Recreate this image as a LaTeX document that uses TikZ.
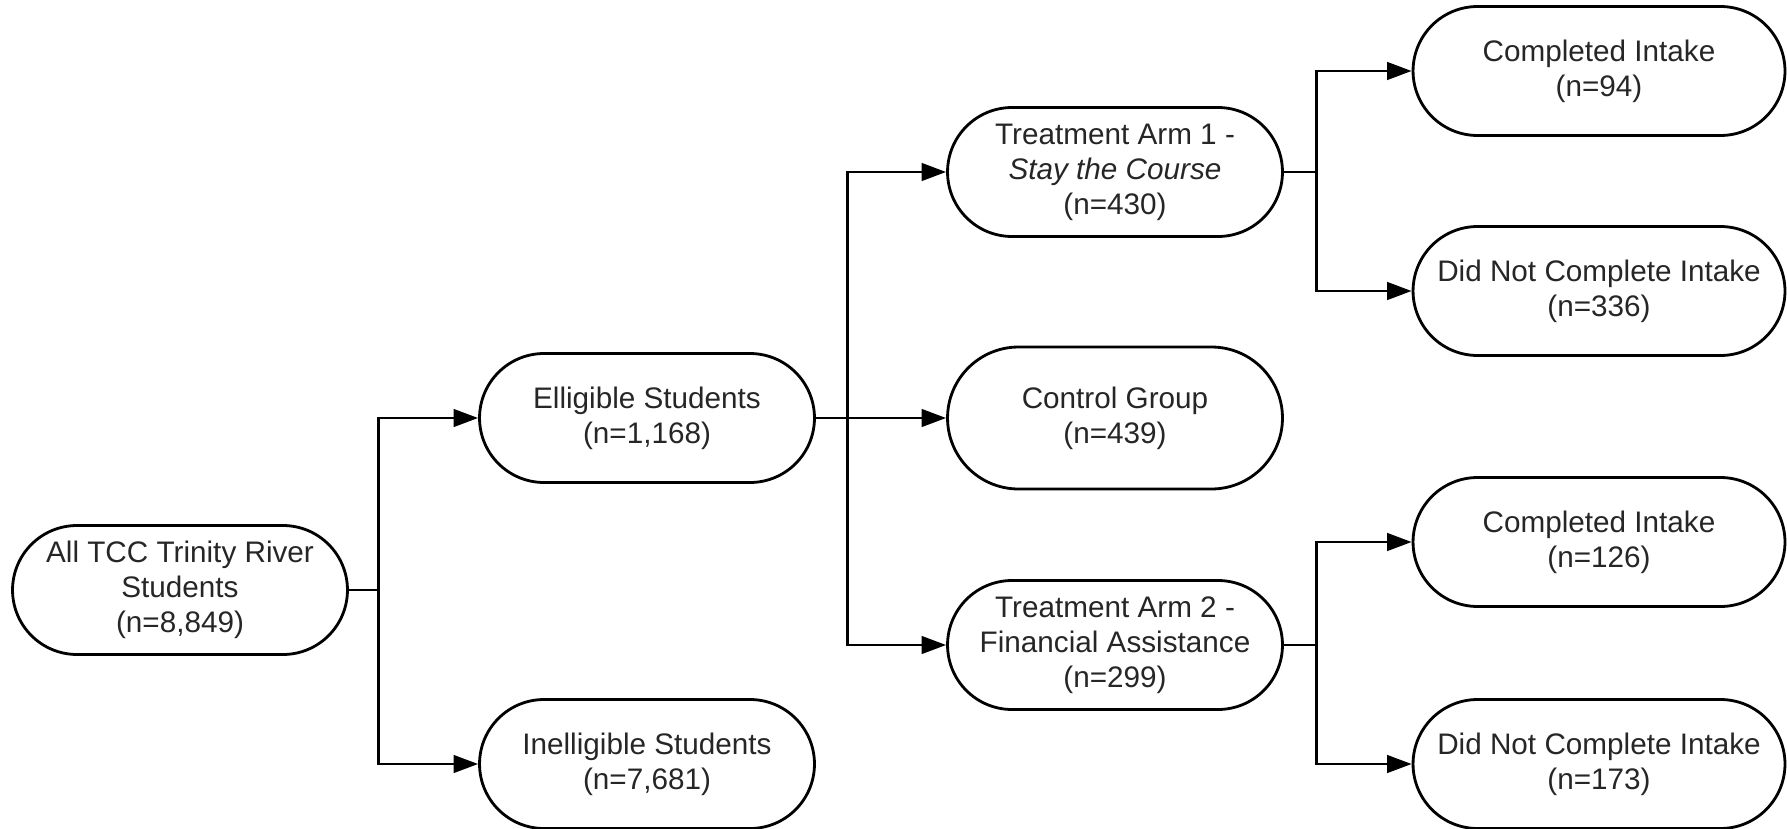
\documentclass[tikz,border=0pt]{standalone}
\usepackage{fontspec}
\setmainfont{Liberation Sans}
\usetikzlibrary{shapes.misc,arrows.meta}

\begin{document}
\begin{tikzpicture}[x=0.02cm, y=-0.02cm,
  box/.style={draw, rounded rectangle, line width=1.6pt, align=center,
    minimum width=6.7cm, minimum height=2.58cm, inner sep=0pt,
    text=black!85, font=\fontsize{16.9pt}{19.9pt}\selectfont},
  wide/.style={box, minimum width=7.44cm},
  arr/.style={-{Triangle[length=14pt,width=10pt]}, line width=1.6pt}]

  \useasboundingbox (0,0) rectangle (1787,828);

  \node[box] (all) at (180,590) {All TCC Trinity River\\Students\\(n=8,849)};

  \node[box] (elig) at (647,418) {Elligible Students\\(n=1,168)};
  \node[box] (inel) at (647,764) {Inelligible Students\\(n=7,681)};

  \node[box] (armone) at (1115,172) {Treatment Arm 1 -\\\textit{Stay the Course}\\(n=430)};
  \node[box, minimum height=2.84cm] (ctrl) at (1115,418) {Control Group\\(n=439)};
  \node[box] (armtwo) at (1115,645) {Treatment Arm 2 -\\Financial Assistance\\(n=299)};

  \node[wide] (doneone) at (1599,71) {Completed Intake\\(n=94)};
  \node[wide] (notone) at (1599,291) {Did Not Complete Intake\\(n=336)};
  \node[wide] (donetwo) at (1599,542) {Completed Intake\\(n=126)};
  \node[wide] (nottwo) at (1599,764) {Did Not Complete Intake\\(n=173)};

  \draw[arr] (all.east) -- ++(30,0) |- (elig.west);
  \draw[arr] (all.east) -- ++(30,0) |- (inel.west);

  \draw[arr] (elig.east) -- ++(32,0) |- (armone.west);
  \draw[arr] (elig.east) -- (ctrl.west);
  \draw[arr] (elig.east) -- ++(32,0) |- (armtwo.west);

  \draw[arr] (armone.east) -- ++(33,0) |- (doneone.west);
  \draw[arr] (armone.east) -- ++(33,0) |- (notone.west);

  \draw[arr] (armtwo.east) -- ++(33,0) |- (donetwo.west);
  \draw[arr] (armtwo.east) -- ++(33,0) |- (nottwo.west);

\end{tikzpicture}
\end{document}
